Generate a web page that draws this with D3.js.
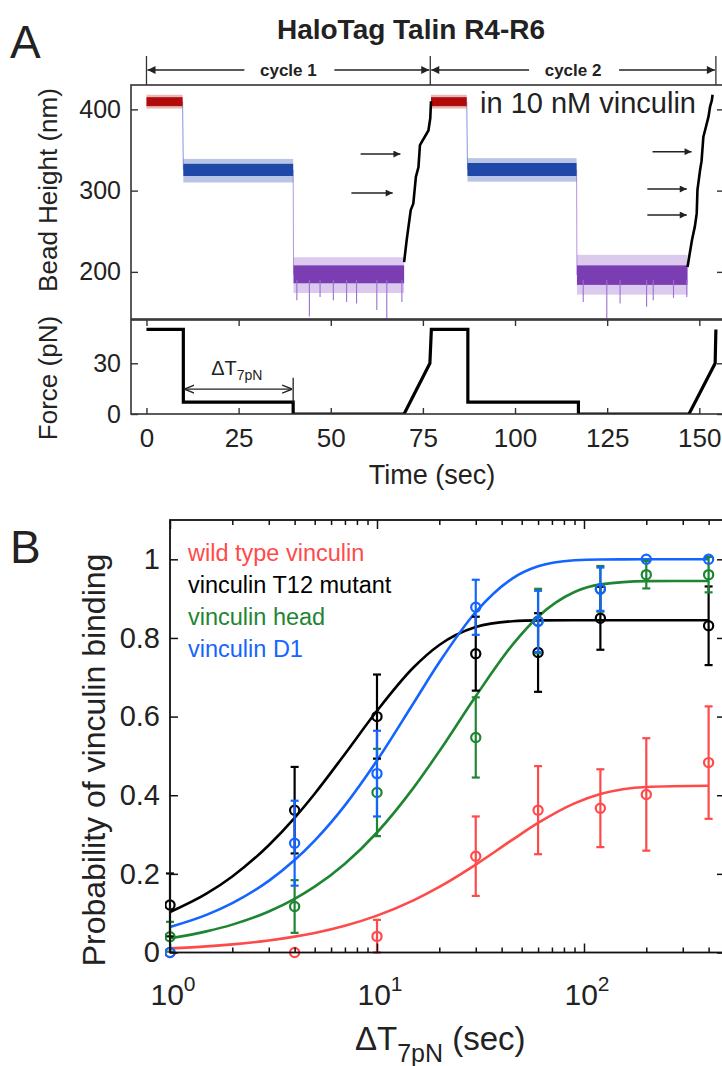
<!DOCTYPE html>
<html><head><meta charset="utf-8">
<script src="https://cdn.jsdelivr.net/npm/d3@7"></script>
<style>
html,body{margin:0;padding:0;background:#fff;}
svg{display:block;font-family:"Liberation Sans",Arial,Helvetica,sans-serif;}
</style></head>
<body><svg id="fig" width="722" height="1066"></svg>
<script>
// ================= DATA: Panel A =================
const timeTicks = [0, 25, 50, 75, 100, 125, 150];
const heightTicks = [200, 300, 400];
const forceTicks = [0, 30];
// force protocol (time sec, force pN)
const forceTime  = [0, 10, 10, 39.8, 39.8, 69.9, 76.9, 77.3, 87.2, 87.2, 117.2, 117.2, 147.2, 154.3, 154.5];
const forceValue = [50, 50, 7, 7, 0, 0, 30, 50, 50, 7, 7, 0, 0, 30, 50];
// bead height phases: start, end, core band (lo,hi), noise envelope (lo,hi)
const phaseName  = ["red", "blue", "purple", "red", "blue", "purple"];
const phaseStart = [0, 10, 39.9, 77.2, 87.1, 116.8];
const phaseEnd   = [9.8, 39.8, 69.9, 86.9, 116.7, 146.8];
const phaseCoreLo = [404, 318, 186, 404, 318, 184];
const phaseCoreHi = [415, 333, 208, 415, 334, 208];
const phaseEnvLo  = [401, 310, 174, 401, 311, 172];
const phaseEnvHi  = [418, 339, 218, 418, 340, 221];
// downward noise spikes (time, height)
const spikeTime   = [40.8, 44.2, 47.1, 50.7, 54.3, 57.0, 62.5, 65.2, 69.3, 118.5, 124.9, 128.5, 135.7, 137.5, 143.0, 146.6];
const spikeHeight = [165, 145, 169, 165, 163, 161, 153, 143, 163, 163, 143, 161, 157, 165, 168, 169];
// stepwise unfolding under force ramp (black trace)
const ramp1Time   = [69.9, 70.6, 71.7, 72.4, 73.1, 73.8, 74.2, 76.5, 77.0, 77.2];
const ramp1Height = [212, 239, 276, 284, 317, 329, 356, 374, 389, 410];
const ramp2Time   = [146.8, 148.0, 148.8, 149.3, 149.5, 150.2, 150.6, 151.1, 152.5, 152.9, 153.4, 153.6];
const ramp2Height = [206, 239, 256, 272, 301, 325, 336, 366, 391, 403, 411, 418];
// annotation arrows marking unfolding steps
const stepArrowT0 = [58.1, 55.6, 137.3, 135.9, 135.9];
const stepArrowT1 = [68.9, 66.8, 147.9, 146.6, 146.6];
const stepArrowH  = [345, 297, 348, 302, 270];
const cycleBounds = [0, 77, 154.5];
const cycleLabels = ["cycle 1", "cycle 2"];

// ================= DATA: Panel B =================
const dtTicksMajor = [1, 10, 100];
const probTicks = [0, 0.2, 0.4, 0.6, 0.8, 1];
const legendNames = ["wild type vinculin", "vinculin T12 mutant", "vinculin head", "vinculin D1"];

const wtX   = [1, 4, 10, 30, 60, 120, 200, 400];
const wtP   = [0, 0, 0.041, 0.245, 0.362, 0.367, 0.402, 0.483];
const wtErr = [0, 0, 0.042, 0.101, 0.112, 0.099, 0.143, 0.143];

const t12X   = [1, 4, 10, 30, 60, 120, 400];
const t12P   = [0.121, 0.362, 0.600, 0.760, 0.763, 0.850, 0.831];
const t12Err = [0.080, 0.110, 0.107, 0.094, 0.100, 0.080, 0.100];

const headX   = [1, 4, 10, 30, 60, 120, 200, 400];
const headP   = [0.040, 0.117, 0.407, 0.547, 0.843, 0.925, 0.961, 0.961];
const headErr = [0.038, 0.067, 0.111, 0.102, 0.082, 0.058, 0.035, 0.045];

const d1X   = [1, 4, 10, 30, 60, 120, 200, 400];
const d1P   = [0, 0.278, 0.455, 0.878, 0.842, 0.924, 1.0, 1.0];
const d1Err = [0, 0.108, 0.109, 0.070, 0.078, 0.055, 0, 0];

// fitted curves
const fitX    = [1, 1.5, 2, 3, 4, 5, 7, 10, 15, 20, 30, 45, 60, 90, 120, 200, 400];
const wtFit   = [0.0105, 0.0156, 0.0207, 0.0306, 0.0404, 0.0498, 0.068, 0.0938, 0.1326, 0.1668, 0.2237, 0.2863, 0.3294, 0.3793, 0.4029, 0.4211, 0.424];
const t12Fit  = [0.103, 0.1497, 0.1934, 0.2729, 0.3426, 0.4039, 0.5049, 0.6147, 0.7248, 0.7822, 0.8279, 0.8425, 0.8446, 0.845, 0.845, 0.845, 0.845];
const headFit = [0.0361, 0.0537, 0.0709, 0.1043, 0.1366, 0.1675, 0.2258, 0.3052, 0.4187, 0.5118, 0.6518, 0.7817, 0.854, 0.9168, 0.9362, 0.9446, 0.945];
const d1Fit   = [0.0648, 0.0956, 0.1255, 0.1821, 0.2351, 0.2847, 0.3743, 0.4883, 0.634, 0.7381, 0.866, 0.951, 0.9821, 0.9976, 0.9997, 1.0, 1.0];

// ================= DRAWING =================
const svg = d3.select("#fig");
const TXT = "#222";
const AX = "#333";

// ---------- Panel A ----------
const xA = d3.scaleLinear().domain([-4.2, 156.7]).range([131, 724]);
const yH = d3.scaleLinear().domain([142, 430]).range([319, 85]);
const yF = d3.scaleLinear().domain([0, 55.6]).range([414, 320]);

const defs = svg.append("defs");
function mk(id, color, w, h) {
  defs.append("marker").attr("id", id).attr("viewBox", "0 0 10 10").attr("refX", 10).attr("refY", 5)
    .attr("markerWidth", w).attr("markerHeight", h).attr("markerUnits", "userSpaceOnUse")
    .attr("orient", "auto-start-reverse")
    .append("path").attr("d", "M0,0 L10,5 L0,10 z").attr("fill", color);
}
mk("arrA", "#222", 13, 8);
mk("arrS", "#222", 11, 7);
function mkOpen(id) {
  defs.append("marker").attr("id", id).attr("viewBox", "0 0 10 10").attr("refX", 10).attr("refY", 5)
    .attr("markerWidth", 10).attr("markerHeight", 10).attr("markerUnits", "userSpaceOnUse")
    .attr("orient", "auto-start-reverse")
    .append("path").attr("d", "M0,1 L10,5 L0,9").attr("fill", "none").attr("stroke", "#222").attr("stroke-width", 1.4);
}
mkOpen("arrO");
defs.append("clipPath").attr("id", "clipH").append("rect")
  .attr("x", 131).attr("y", 85).attr("width", 593).attr("height", 234);
defs.append("clipPath").attr("id", "clipF").append("rect")
  .attr("x", 131).attr("y", 320).attr("width", 593).attr("height", 94);

// title and panel letters
svg.append("text").attr("x", 411).attr("y", 39).attr("text-anchor", "middle")
  .attr("font-size", 28).attr("font-weight", "bold").attr("fill", TXT).text("HaloTag Talin R4-R6");
svg.append("text").attr("x", 10).attr("y", 58).attr("font-size", 46).attr("fill", TXT).text("A");
svg.append("text").attr("x", 10).attr("y", 563).attr("font-size", 46).attr("fill", TXT).text("B");

// cycle arrows
const cyc = svg.append("g");
cycleBounds.forEach(t => {
  cyc.append("line").attr("x1", xA(t)).attr("x2", xA(t)).attr("y1", 56).attr("y2", 85)
    .attr("stroke", AX).attr("stroke-width", 1.3);
});
cycleLabels.forEach((lab, i) => {
  const a = xA(cycleBounds[i]), b = xA(cycleBounds[i + 1]), m = (a + b) / 2;
  cyc.append("text").attr("x", m).attr("y", 76).attr("text-anchor", "middle")
    .attr("font-size", 17).attr("font-weight", "bold").attr("fill", TXT).text(lab);
  cyc.append("line").attr("x1", m - 44).attr("x2", a + 1).attr("y1", 70).attr("y2", 70)
    .attr("stroke", "#222").attr("stroke-width", 1.4).attr("marker-end", "url(#arrA)");
  cyc.append("line").attr("x1", m + 46).attr("x2", b - 1).attr("y1", 70).attr("y2", 70)
    .attr("stroke", "#222").attr("stroke-width", 1.4).attr("marker-end", "url(#arrA)");
});

// bead height trace
const phaseCore = {red: "#b00a0a", blue: "#1f48a8", purple: "#7a3db2"};
const phaseEnv  = {red: "#c84848", blue: "#4e6fc4", purple: "#a57bd4"};
const gH = svg.append("g").attr("clip-path", "url(#clipH)");
// thin transitions
for (let i = 0; i < phaseName.length - 1; i++) {
  if (phaseName[i] === "purple") continue;
  const col = phaseName[i + 1] === "blue" ? "#7f9ae0" : "#b595dd";
  gH.append("line").attr("x1", xA(phaseEnd[i])).attr("x2", xA(phaseStart[i + 1]))
    .attr("y1", yH((phaseCoreLo[i] + phaseCoreHi[i]) / 2)).attr("y2", yH((phaseCoreLo[i + 1] + phaseCoreHi[i + 1]) / 2))
    .attr("stroke", col).attr("stroke-width", 1);
}
phaseName.forEach((p, i) => {
  gH.append("rect").attr("x", xA(phaseStart[i])).attr("width", xA(phaseEnd[i]) - xA(phaseStart[i]))
    .attr("y", yH(phaseEnvHi[i])).attr("height", yH(phaseEnvLo[i]) - yH(phaseEnvHi[i]))
    .attr("fill", phaseEnv[p]).attr("opacity", 0.4);
  gH.append("rect").attr("x", xA(phaseStart[i])).attr("width", xA(phaseEnd[i]) - xA(phaseStart[i]))
    .attr("y", yH(phaseCoreHi[i])).attr("height", yH(phaseCoreLo[i]) - yH(phaseCoreHi[i]))
    .attr("fill", phaseCore[p]);
});
spikeTime.forEach((t, i) => {
  gH.append("line").attr("x1", xA(t)).attr("x2", xA(t))
    .attr("y1", yH(190)).attr("y2", yH(spikeHeight[i]))
    .attr("stroke", "#9a6fd0").attr("stroke-width", 1.1);
});
const lineH = d3.line().x(d => xA(d[0])).y(d => yH(d[1]));
[[ramp1Time, ramp1Height], [ramp2Time, ramp2Height]].forEach(([T, Hh]) => {
  gH.append("path").attr("d", lineH(T.map((t, i) => [t, Hh[i]])))
    .attr("fill", "none").attr("stroke", "#000").attr("stroke-width", 2.6).attr("stroke-linejoin", "round");
});
// step arrows
stepArrowH.forEach((h, i) => {
  svg.append("line").attr("x1", xA(stepArrowT0[i])).attr("x2", xA(stepArrowT1[i]))
    .attr("y1", yH(h)).attr("y2", yH(h))
    .attr("stroke", "#222").attr("stroke-width", 1.5).attr("marker-end", "url(#arrS)");
});
svg.append("text").attr("x", 480).attr("y", 113).attr("font-size", 29).attr("fill", TXT).text("in 10 nM vinculin");

// force trace
const gF = svg.append("g").attr("clip-path", "url(#clipF)");
const lineF = d3.line().x(d => xA(d[0])).y(d => yF(d[1]));
gF.append("path").attr("d", lineF(forceTime.map((t, i) => [t, forceValue[i]])))
  .attr("fill", "none").attr("stroke", "#000").attr("stroke-width", 3.2).attr("stroke-linejoin", "miter");

// delta T annotation
svg.append("line").attr("x1", xA(10) + 1).attr("x2", xA(39.8) - 1).attr("y1", yF(14.7)).attr("y2", yF(14.7))
  .attr("stroke", "#222").attr("stroke-width", 1.3)
  .attr("marker-start", "url(#arrO)").attr("marker-end", "url(#arrO)");
svg.append("line").attr("x1", xA(39.8)).attr("x2", xA(39.8)).attr("y1", yF(21.5)).attr("y2", yF(7))
  .attr("stroke", "#222").attr("stroke-width", 1.3);
const dtl = svg.append("text").attr("x", xA(24.5)).attr("y", yF(23)).attr("text-anchor", "middle")
  .attr("font-size", 20).attr("fill", TXT);
dtl.append("tspan").text("\u0394T");
dtl.append("tspan").attr("font-size", 14).attr("dy", 5).text("7pN");

// frames
[[85, 319], [320, 414]].forEach(([y0, y1]) => {
  svg.append("rect").attr("x", 131).attr("y", y0).attr("width", 593).attr("height", y1 - y0)
    .attr("fill", "none").attr("stroke", AX).attr("stroke-width", 1.6);
});

function styleAxis(g, fs) {
  g.select(".domain").remove();
  g.selectAll(".tick line").attr("stroke", AX).attr("stroke-width", 1.4);
  g.selectAll(".tick text").attr("fill", TXT).attr("font-size", fs)
    .attr("font-family", "'Liberation Sans',Arial,Helvetica,sans-serif");
}
styleAxis(svg.append("g").attr("transform", "translate(131,0)")
  .call(d3.axisLeft(yH).tickValues(heightTicks).tickSize(-7).tickPadding(10)), 25);
styleAxis(svg.append("g").attr("transform", "translate(724,0)")
  .call(d3.axisRight(yH).tickValues(heightTicks).tickSize(-7).tickFormat("")), 25);
styleAxis(svg.append("g").attr("transform", "translate(131,0)")
  .call(d3.axisLeft(yF).tickValues(forceTicks).tickSize(-7).tickPadding(10)), 25);
styleAxis(svg.append("g").attr("transform", "translate(724,0)")
  .call(d3.axisRight(yF).tickValues(forceTicks).tickSize(-7).tickFormat("")), 25);
styleAxis(svg.append("g").attr("transform", "translate(0,414)")
  .call(d3.axisBottom(xA).tickValues(timeTicks).tickSize(-6).tickPadding(15)), 26);
styleAxis(svg.append("g").attr("transform", "translate(0,320)")
  .call(d3.axisTop(xA).tickValues(timeTicks).tickSize(-6).tickFormat("")), 26);

svg.append("text").attr("transform", "translate(57,190) rotate(-90)").attr("text-anchor", "middle")
  .attr("font-size", 26).attr("fill", TXT).text("Bead Height (nm)");
svg.append("text").attr("transform", "translate(57,378) rotate(-90)").attr("text-anchor", "middle")
  .attr("font-size", 26).attr("fill", TXT).text("Force (pN)");
svg.append("text").attr("x", 432).attr("y", 484).attr("text-anchor", "middle")
  .attr("font-size", 27).attr("fill", TXT).text("Time (sec)");

// ---------- Panel B ----------
const xB = d3.scaleLog().domain([1, 480]).range([170, 725]);
const yB = d3.scaleLinear().domain([0, 1.1]).range([952.5, 520]);
defs.append("clipPath").attr("id", "clipB").append("rect")
  .attr("x", 165).attr("y", 515).attr("width", 560).attr("height", 445);

const series = [
  {x: wtX, p: wtP, e: wtErr, fit: wtFit, color: "#ff4a4a"},
  {x: t12X, p: t12P, e: t12Err, fit: t12Fit, color: "#000000"},
  {x: headX, p: headP, e: headErr, fit: headFit, color: "#1e8532"},
  {x: d1X, p: d1P, e: d1Err, fit: d1Fit, color: "#1464ff"}
];
const gB = svg.append("g").attr("clip-path", "url(#clipB)");
const lineB = d3.line().x(d => xB(d[0])).y(d => yB(d[1])).curve(d3.curveMonotoneX);
series.forEach(s => {
  gB.append("path").attr("d", lineB(fitX.map((x, i) => [x, s.fit[i]])))
    .attr("fill", "none").attr("stroke", s.color).attr("stroke-width", 2.6);
});
series.forEach(s => {
  const g = gB.append("g").attr("stroke", s.color).attr("stroke-width", 2.2).attr("fill", "none");
  s.x.forEach((x, i) => {
    const cx = xB(x), e = s.e[i];
    if (e > 0) {
      const y0 = yB(Math.max(0, s.p[i] - e)), y1 = yB(s.p[i] + e);
      g.append("line").attr("x1", cx).attr("x2", cx).attr("y1", y0).attr("y2", y1);
      g.append("line").attr("x1", cx - 4).attr("x2", cx + 4).attr("y1", y1).attr("y2", y1);
      g.append("line").attr("x1", cx - 4).attr("x2", cx + 4).attr("y1", y0).attr("y2", y0);
    }
    g.append("circle").attr("cx", cx).attr("cy", yB(s.p[i])).attr("r", 4.6);
  });
});

// frame & ticks
svg.append("rect").attr("x", 170).attr("y", 520).attr("width", 555).attr("height", 432.5)
  .attr("fill", "none").attr("stroke", "#111").attr("stroke-width", 1.8);
const minorB = [];
[1, 10, 100].forEach(d => { for (let k = 2; k <= 9; k++) if (d * k <= 480) minorB.push(d * k); });
function styleB(g) {
  g.select(".domain").remove();
  g.selectAll(".tick line").attr("stroke", "#111").attr("stroke-width", 1.5);
  g.selectAll(".tick text").attr("fill", TXT).attr("font-size", 29)
    .attr("font-family", "'Liberation Sans',Arial,Helvetica,sans-serif");
  return g;
}
styleB(svg.append("g").attr("transform", "translate(170,0)")
  .call(d3.axisLeft(yB).tickValues(probTicks).tickSize(-8).tickPadding(10)
    .tickFormat(d => d === 0 ? "0" : d === 1 ? "1" : d3.format(".1f")(d))));
styleB(svg.append("g").attr("transform", "translate(725,0)")
  .call(d3.axisRight(yB).tickValues(probTicks).tickSize(-8).tickFormat("")));
styleB(svg.append("g").attr("transform", "translate(0,952.5)")
  .call(d3.axisBottom(xB).tickValues(dtTicksMajor).tickSize(-9).tickFormat("")));
styleB(svg.append("g").attr("transform", "translate(0,952.5)")
  .call(d3.axisBottom(xB).tickValues(minorB).tickSize(-5).tickFormat("")));
styleB(svg.append("g").attr("transform", "translate(0,520)")
  .call(d3.axisTop(xB).tickValues(dtTicksMajor).tickSize(-9).tickFormat("")));
styleB(svg.append("g").attr("transform", "translate(0,520)")
  .call(d3.axisTop(xB).tickValues(minorB).tickSize(-5).tickFormat("")));
dtTicksMajor.forEach(d => {
  const t = svg.append("text").attr("x", xB(d) + 3).attr("y", 1005).attr("text-anchor", "middle")
    .attr("font-size", 30).attr("fill", TXT);
  t.append("tspan").text("10");
  t.append("tspan").attr("font-size", 21).attr("dy", -14).text(String(Math.round(Math.log10(d))));
});

// legend
legendNames.forEach((n, i) => {
  svg.append("text").attr("x", 188).attr("y", 561 + i * 32).attr("font-size", 23.5)
    .attr("fill", series[i].color).text(n);
});

// axis labels
svg.append("text").attr("transform", "translate(105,760) rotate(-90)").attr("text-anchor", "middle")
  .attr("font-size", 32).attr("fill", TXT).text("Probability of vinculin binding");
const xl = svg.append("text").attr("x", 355).attr("y", 1050).attr("font-size", 33).attr("fill", TXT);
xl.append("tspan").text("\u0394T");
xl.append("tspan").attr("font-size", 25).attr("dy", 12).text("7pN");
xl.append("tspan").attr("dy", -12).text(" (sec)");
</script></body></html>
